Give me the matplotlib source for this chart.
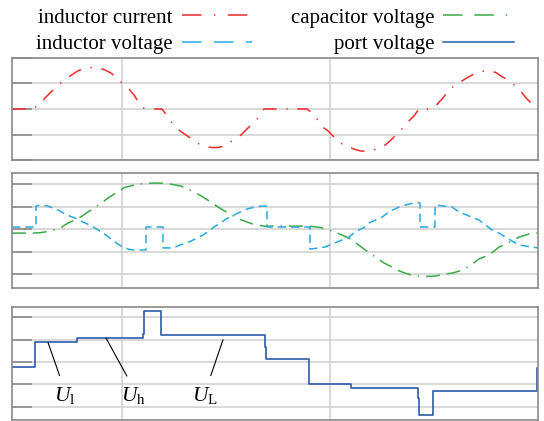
import numpy as np
import matplotlib.pyplot as plt
from matplotlib.lines import Line2D

plt.rcParams['font.family'] = ['Liberation Serif', 'DejaVu Serif']
plt.rcParams['mathtext.fontset'] = 'custom'
plt.rcParams['mathtext.rm'] = 'Liberation Serif'
plt.rcParams['mathtext.it'] = 'Liberation Serif:italic'
plt.rcParams['lines.scale_dashes'] = False

# ---------------- data (time in arbitrary units) ----------------
t_end = 526
t_grid = [110, 318]

# inductor current
i_t = [0, 20, 27, 33, 38, 43, 50, 58, 64, 70, 76, 81, 87, 93, 99, 104, 111, 117, 122, 126, 131, 136,
       150, 155, 161, 168, 174, 180, 187, 193, 199, 205, 211, 216, 221, 225, 229, 234, 239, 243, 246, 249, 252,
       295, 300, 305, 311, 316, 322, 328, 333, 337, 343, 349, 354, 359, 365, 372, 378, 383, 388, 393, 397, 402, 407,
       418, 423, 427, 430, 434, 438, 442, 446, 450, 454, 460, 467, 473, 478, 484, 489, 495, 500, 507, 511, 514, 519, 523, 526]
i_v = [0, 0, 0.16, 0.43, 0.63, 0.82, 1.06, 1.29, 1.45, 1.57, 1.61, 1.63, 1.61, 1.53, 1.41, 1.25, 0.98, 0.78, 0.55, 0.31, 0.04, 0,
       0, -0.27, -0.59, -0.86, -1.02, -1.18, -1.37, -1.45, -1.51, -1.51, -1.47, -1.37, -1.22, -1.12, -1.02, -0.82, -0.63, -0.47, -0.35, -0.16, 0,
       0, -0.16, -0.39, -0.71, -0.86, -1.10, -1.33, -1.41, -1.49, -1.59, -1.65, -1.65, -1.63, -1.57, -1.45, -1.25, -1.06, -0.86, -0.67, -0.47, -0.27, 0,
       0, 0.08, 0.27, 0.39, 0.59, 0.78, 0.90, 0.98, 1.10, 1.20, 1.33, 1.45, 1.49, 1.49, 1.43, 1.29, 1.16, 1.02, 0.78, 0.59, 0.43, 0.24, 0.08, -0.04]

# capacitor voltage
vc_t = [0, 21, 28, 33, 40, 48, 56, 65, 71, 76, 85, 91, 96, 104, 112, 120, 127, 134, 140, 148,
        158, 169, 178, 185, 191, 198, 204, 210, 218, 227, 234, 241, 248, 252, 295, 301, 308, 313, 323, 330,
        337, 344, 352, 358, 363, 372, 378, 383, 393, 403, 413, 423, 433, 440, 447, 458, 467, 472, 477, 487,
        494, 500, 507, 517, 526]
vc_v = [-0.18, -0.18, -0.16, -0.13, -0.07, 0.04, 0.27, 0.44, 0.60, 0.76, 1.02, 1.20, 1.38, 1.60, 1.84, 1.93, 2.00, 2.02, 2.04, 2.04,
        2.00, 1.91, 1.73, 1.58, 1.42, 1.22, 1.04, 0.87, 0.67, 0.44, 0.33, 0.22, 0.16, 0.13, 0.13, 0.11, 0.07, 0.02, -0.13, -0.27,
        -0.40, -0.62, -0.89, -1.07, -1.24, -1.51, -1.64, -1.78, -1.96, -2.09, -2.11, -2.09, -2.00, -1.96, -1.87, -1.64, -1.33, -1.24, -1.16, -0.80,
        -0.67, -0.53, -0.36, -0.22, -0.18]

# inductor voltage
vl_t = [0, 24, 24, 28, 36, 41, 48, 55, 63, 73, 80, 91, 98, 106, 111, 116, 121, 134, 134, 151, 151, 161,
        168, 175, 181, 191, 198, 208, 216, 226, 235, 243, 250, 255, 255, 298, 298, 307, 313, 320, 337, 343,
        353, 357, 370, 377, 387, 397, 403, 408, 408, 423, 423, 440, 447, 460, 467, 480, 487, 500, 507, 526]
vl_v = [0.09, 0.09, 1.02, 1.07, 1.02, 0.93, 0.80, 0.62, 0.49, 0.27, 0.13, -0.18, -0.40, -0.67, -0.80, -0.89, -0.93, -0.93, 0.09, 0.09, -0.84, -0.84,
        -0.71, -0.62, -0.49, -0.27, -0.04, 0.27, 0.49, 0.71, 0.89, 0.98, 1.02, 1.02, 0.09, 0.09, -0.89, -0.84, -0.80, -0.67, -0.36, -0.13,
        0.09, 0.27, 0.53, 0.76, 0.98, 1.11, 1.16, 1.16, 0.09, 0.09, 1.07, 0.98, 0.76, 0.53, 0.40, -0.04, -0.18, -0.53, -0.71, -0.84]

# port voltage (stepped)
vp_t = [0, 23, 65, 131, 132, 149, 253, 254, 297, 339, 406, 407, 421, 525, 526]
vp_v = [-0.24, 0.88, 1.08, 1.25, 2.27, 1.22, 0.67, 0.13, -0.99, -1.17, -1.60, -2.36, -1.31, -0.27, -0.27]

# labels on the port voltage
ann_text = [r'$U_{\mathrm{l}}$', r'$U_{\mathrm{h}}$', r'$U_{\mathrm{L}}$']
ann_xy = [(36, 0.88), (94, 1.08), (211, 1.0)]
ann_txt_pos = [(53, -1.5), (121, -1.5), (193, -1.5)]
ann_rel = [0.4, 0.45, 0.6]

# ---------------- style ----------------
c_i = '#ee2a2a'
c_vc = '#3aaa48'
c_vl = '#29a9e0'
c_vp = '#2d5aa8'
lw = 1.1
dash_i = (0, (10, 7, 1, 7))
dash_vc = (0, (10, 5, 10, 5, 1, 5))
dash_vl = (0, (6, 3.6))

fig = plt.figure(figsize=(5.44, 4.21), dpi=100)
W, H = 544, 421
L, R = 12, 538
boxes = [(58, 160), (173, 288), (307, 420)]
axes = []
for top, bot in boxes:
    ax = fig.add_axes([L / W, 1 - bot / H, (R - L) / W, (bot - top) / H])
    axes.append(ax)
ax1, ax2, ax3 = axes

ax1.plot(i_t, i_v, color=c_i, lw=lw, linestyle=dash_i)
ax2.plot(vc_t, vc_v, color=c_vc, lw=lw, linestyle=dash_vc)
ax2.plot(vl_t, vl_v, color=c_vl, lw=lw, linestyle=dash_vl)
ax3.plot(vp_t, vp_v, color=c_vp, lw=1.2, drawstyle='steps-post')

for txt, xy, pos, rx in zip(ann_text, ann_xy, ann_txt_pos, ann_rel):
    ax3.annotate(txt, xy=xy, xytext=pos, ha='center', va='center', fontsize=15.5,
                 arrowprops=dict(arrowstyle='-', color='black', lw=0.8,
                                 shrinkA=5, shrinkB=0, relpos=(rx, 1.0)))

ax1.set_ylim(-2, 2)
ax2.set_ylim(-2.62, 2.49)
ax3.set_ylim(-2.6, 2.47)
for ax in axes:
    ax.set_xlim(0, t_end)
    ax.set_xticks(t_grid)
    ax.set_yticks([-2, -1, 0, 1, 2])
    ax.grid(True, color='#d2d2d2', lw=1.2)
    ax.set_axisbelow(True)
    ax.tick_params(axis='x', length=0, labelbottom=False)
    ax.tick_params(axis='y', direction='in', length=14.5, width=1.2, color='#8a8a8a', labelleft=False)
    for s in ax.spines.values():
        s.set_color('#8a8a8a')
        s.set_linewidth(1.2)

# legend
handles = [Line2D([], [], color=c_i, lw=lw, linestyle=(0, (14, 9, 1, 9))),
           Line2D([], [], color=c_vl, lw=lw, linestyle=(0, (14, 9))),
           Line2D([], [], color=c_vc, lw=lw, linestyle=(0, (14, 8.6, 14, 8.6, 1, 8.6))),
           Line2D([], [], color=c_vp, lw=lw)]
labels = ['inductor current', 'inductor voltage', 'capacitor voltage', 'port voltage']
fig.legend(handles, labels, ncol=2, loc='upper left', bbox_to_anchor=(36 / W, 1 - 8 / H),
           frameon=False, fontsize=15, markerfirst=False, handlelength=3.4, handletextpad=0.43,
           columnspacing=1.85, labelspacing=0.35, borderpad=0, borderaxespad=0)

fig.savefig('out.png', dpi=100)
